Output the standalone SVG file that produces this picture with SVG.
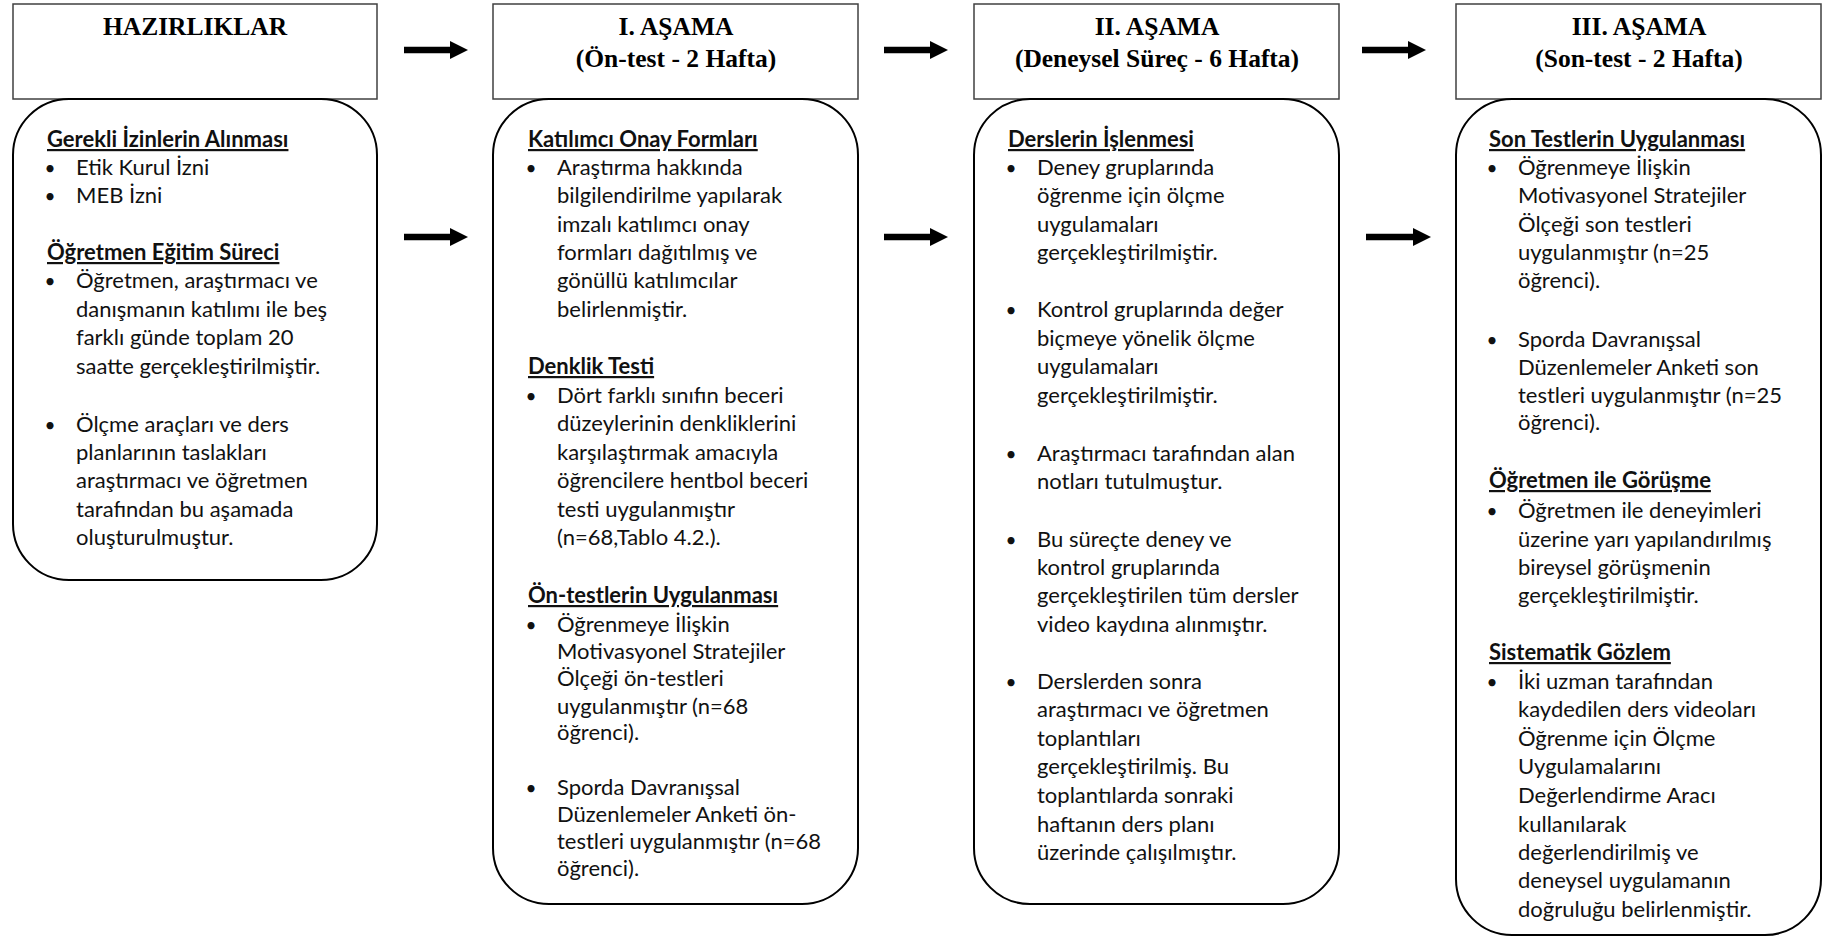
<svg xmlns="http://www.w3.org/2000/svg" width="1831" height="937" viewBox="0 0 1831 937">
<style>
.hdr{fill:#fff;stroke:#404040;stroke-width:1.5}
.box{fill:#fff;stroke:#000;stroke-width:2}
.title{font-family:"Liberation Serif","Times New Roman",serif;font-weight:bold;font-size:25.5px;fill:#000;text-anchor:middle}
.t{font-family:Lato,"Liberation Sans",sans-serif;font-size:22px;fill:#111}
.h{font-weight:bold;text-decoration:underline}
.bul{text-anchor:middle;font-size:19px}
.arr{stroke:#000;stroke-width:6.5;fill:none}
</style>
<defs>
<marker id="ah" markerUnits="userSpaceOnUse" markerWidth="19" markerHeight="19" refX="0" refY="9" orient="auto" viewBox="0 0 19 18">
<path d="M0,0 L18,9 L0,18 z" fill="#000"/>
</marker>
</defs>
<rect width="1831" height="937" fill="#fff"/>

<g id="connectors">
<line class="arr" x1="404" y1="50" x2="450" y2="50" marker-end="url(#ah)"/>
<line class="arr" x1="404" y1="237" x2="450" y2="237" marker-end="url(#ah)"/>
<line class="arr" x1="884" y1="50" x2="930" y2="50" marker-end="url(#ah)"/>
<line class="arr" x1="884" y1="237" x2="930" y2="237" marker-end="url(#ah)"/>
<line class="arr" x1="1362" y1="50" x2="1408" y2="50" marker-end="url(#ah)"/>
<line class="arr" x1="1366" y1="237" x2="1413" y2="237" marker-end="url(#ah)"/>
</g>

<g id="hazirliklar-header">
<rect class="hdr" x="13" y="4" width="364" height="95"/>
<text class="title" x="195" y="35">HAZIRLIKLAR</text>
</g>
<g id="hazirliklar-body">
<rect class="box" x="13" y="99" width="364" height="481" rx="56" ry="56"/>
<text class="t h" x="47" y="147">Gerekli İzinlerin Alınması</text>
<text class="t bul" x="50" y="175">•</text><text class="t" x="76" y="175">Etik Kurul İzni</text>
<text class="t bul" x="50" y="203">•</text><text class="t" x="76" y="203">MEB İzni</text>
<text class="t h" x="47" y="260">Öğretmen Eğitim Süreci</text>
<text class="t bul" x="50" y="288">•</text>
<text class="t" x="76"><tspan x="76" y="288">Öğretmen, araştırmacı ve</tspan><tspan x="76" y="317">danışmanın katılımı ile beş</tspan><tspan x="76" y="345">farklı günde toplam 20</tspan><tspan x="76" y="374">saatte gerçekleştirilmiştir.</tspan></text>
<text class="t bul" x="50" y="432">•</text>
<text class="t" x="76"><tspan x="76" y="432">Ölçme araçları ve ders</tspan><tspan x="76" y="460">planlarının taslakları</tspan><tspan x="76" y="488">araştırmacı ve öğretmen</tspan><tspan x="76" y="517">tarafından bu aşamada</tspan><tspan x="76" y="545">oluşturulmuştur.</tspan></text>
</g>

<g id="asama1-header">
<rect class="hdr" x="493" y="4" width="365" height="95"/>
<text class="title" x="676" y="35">I. AŞAMA</text>
<text class="title" x="676" y="67">(Ön-test - 2 Hafta)</text>
</g>
<g id="asama1-body">
<rect class="box" x="493" y="99" width="365" height="805" rx="56" ry="56"/>
<text class="t h" x="528" y="147">Katılımcı Onay Formları</text>
<text class="t bul" x="531" y="175">•</text>
<text class="t"><tspan x="557" y="175">Araştırma hakkında</tspan><tspan x="557" y="203">bilgilendirilme yapılarak</tspan><tspan x="557" y="232">imzalı katılımcı onay</tspan><tspan x="557" y="260">formları dağıtılmış ve</tspan><tspan x="557" y="288">gönüllü katılımcılar</tspan><tspan x="557" y="317">belirlenmiştir.</tspan></text>
<text class="t h" x="528" y="374">Denklik Testi</text>
<text class="t bul" x="531" y="403">•</text>
<text class="t"><tspan x="557" y="403">Dört farklı sınıfın beceri</tspan><tspan x="557" y="431">düzeylerinin denkliklerini</tspan><tspan x="557" y="460">karşılaştırmak amacıyla</tspan><tspan x="557" y="488">öğrencilere hentbol beceri</tspan><tspan x="557" y="517">testi uygulanmıştır</tspan><tspan x="557" y="545">(n=68,Tablo 4.2.).</tspan></text>
<text class="t h" x="528" y="603">Ön-testlerin Uygulanması</text>
<text class="t bul" x="531" y="632">•</text>
<text class="t"><tspan x="557" y="632">Öğrenmeye İlişkin</tspan><tspan x="557" y="659">Motivasyonel Stratejiler</tspan><tspan x="557" y="686">Ölçeği ön-testleri</tspan><tspan x="557" y="714">uygulanmıştır (n=68</tspan><tspan x="557" y="740">öğrenci).</tspan></text>
<text class="t bul" x="531" y="795">•</text>
<text class="t"><tspan x="557" y="795">Sporda Davranışsal</tspan><tspan x="557" y="822">Düzenlemeler Anketi ön-</tspan><tspan x="557" y="849">testleri uygulanmıştır (n=68</tspan><tspan x="557" y="876">öğrenci).</tspan></text>
</g>

<g id="asama2-header">
<rect class="hdr" x="974" y="4" width="365" height="95"/>
<text class="title" x="1157" y="35">II. AŞAMA</text>
<text class="title" x="1157" y="67">(Deneysel Süreç - 6 Hafta)</text>
</g>
<g id="asama2-body">
<rect class="box" x="974" y="99" width="365" height="805" rx="56" ry="56"/>
<text class="t h" x="1008" y="147">Derslerin İşlenmesi</text>
<text class="t bul" x="1011" y="175">•</text>
<text class="t"><tspan x="1037" y="175">Deney gruplarında</tspan><tspan x="1037" y="203">öğrenme için ölçme</tspan><tspan x="1037" y="232">uygulamaları</tspan><tspan x="1037" y="260">gerçekleştirilmiştir.</tspan></text>
<text class="t bul" x="1011" y="317">•</text>
<text class="t"><tspan x="1037" y="317">Kontrol gruplarında değer</tspan><tspan x="1037" y="346">biçmeye yönelik ölçme</tspan><tspan x="1037" y="374">uygulamaları</tspan><tspan x="1037" y="403">gerçekleştirilmiştir.</tspan></text>
<text class="t bul" x="1011" y="461">•</text>
<text class="t"><tspan x="1037" y="461">Araştırmacı tarafından alan</tspan><tspan x="1037" y="489">notları tutulmuştur.</tspan></text>
<text class="t bul" x="1011" y="547">•</text>
<text class="t"><tspan x="1037" y="547">Bu süreçte deney ve</tspan><tspan x="1037" y="575">kontrol gruplarında</tspan><tspan x="1037" y="603">gerçekleştirilen tüm dersler</tspan><tspan x="1037" y="632">video kaydına alınmıştır.</tspan></text>
<text class="t bul" x="1011" y="689">•</text>
<text class="t"><tspan x="1037" y="689">Derslerden sonra</tspan><tspan x="1037" y="717">araştırmacı ve öğretmen</tspan><tspan x="1037" y="746">toplantıları</tspan><tspan x="1037" y="774">gerçekleştirilmiş. Bu</tspan><tspan x="1037" y="803">toplantılarda sonraki</tspan><tspan x="1037" y="832">haftanın ders planı</tspan><tspan x="1037" y="860">üzerinde çalışılmıştır.</tspan></text>
</g>

<g id="asama3-header">
<rect class="hdr" x="1456" y="4" width="365" height="95"/>
<text class="title" x="1639" y="35">III. AŞAMA</text>
<text class="title" x="1639" y="67">(Son-test - 2 Hafta)</text>
</g>
<g id="asama3-body">
<rect class="box" x="1456" y="99" width="365" height="836" rx="56" ry="56"/>
<text class="t h" x="1489" y="147">Son Testlerin Uygulanması</text>
<text class="t bul" x="1492" y="175">•</text>
<text class="t"><tspan x="1518" y="175">Öğrenmeye İlişkin</tspan><tspan x="1518" y="203">Motivasyonel Stratejiler</tspan><tspan x="1518" y="232">Ölçeği son testleri</tspan><tspan x="1518" y="260">uygulanmıştır (n=25</tspan><tspan x="1518" y="288">öğrenci).</tspan></text>
<text class="t bul" x="1492" y="347">•</text>
<text class="t"><tspan x="1518" y="347">Sporda Davranışsal</tspan><tspan x="1518" y="375">Düzenlemeler Anketi son</tspan><tspan x="1518" y="403">testleri uygulanmıştır (n=25</tspan><tspan x="1518" y="430">öğrenci).</tspan></text>
<text class="t h" x="1489" y="488">Öğretmen ile Görüşme</text>
<text class="t bul" x="1492" y="518">•</text>
<text class="t"><tspan x="1518" y="518">Öğretmen ile deneyimleri</tspan><tspan x="1518" y="547">üzerine yarı yapılandırılmış</tspan><tspan x="1518" y="575">bireysel görüşmenin</tspan><tspan x="1518" y="603">gerçekleştirilmiştir.</tspan></text>
<text class="t h" x="1489" y="660">Sistematik Gözlem</text>
<text class="t bul" x="1492" y="689">•</text>
<text class="t"><tspan x="1518" y="689">İki uzman tarafından</tspan><tspan x="1518" y="717">kaydedilen ders videoları</tspan><tspan x="1518" y="746">Öğrenme için Ölçme</tspan><tspan x="1518" y="774">Uygulamalarını</tspan><tspan x="1518" y="803">Değerlendirme Aracı</tspan><tspan x="1518" y="832">kullanılarak</tspan><tspan x="1518" y="860">değerlendirilmiş ve</tspan><tspan x="1518" y="888">deneysel uygulamanın</tspan><tspan x="1518" y="917">doğruluğu belirlenmiştir.</tspan></text>
</g>
</svg>
